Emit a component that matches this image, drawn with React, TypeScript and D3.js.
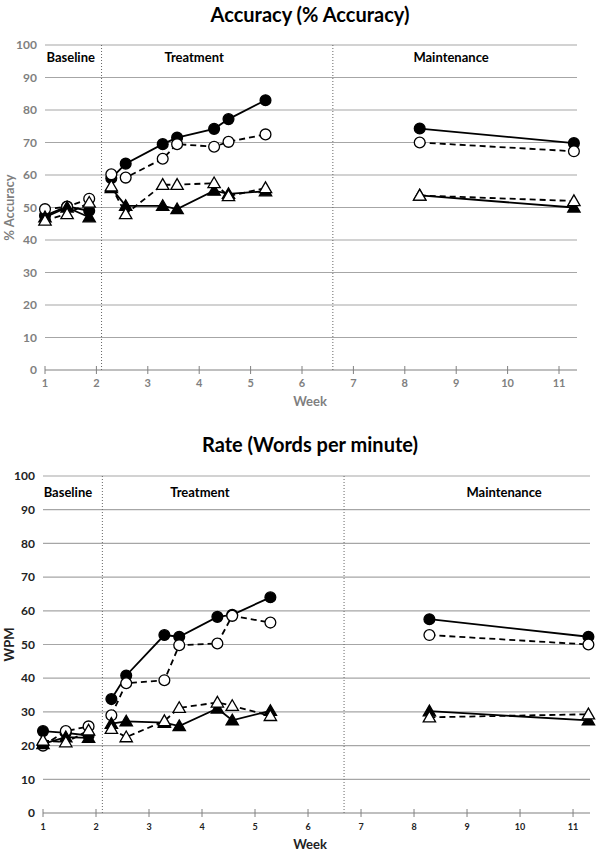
// @ts-nocheck
import React from 'react'
import * as d3 from 'd3'

// weeks of each probe (same for both measures)
const weeks = [1, 1.43, 1.86, 2.29, 2.57, 3.29, 3.57, 4.29, 4.57, 5.29, 8.29, 11.29]
// phase segments, as [start, end) indices into weeks
const phases = [
  [0, 3],
  [3, 10],
  [10, 12],
]
const phaseNames = ['Baseline', 'Treatment', 'Maintenance']
const accBreaks = [2.1, 6.6]
const rateBreaks = [2.12, 6.68]

const accFilledCircle = [47.5, 50.3, 49, 59, 63.5, 69.5, 71.5, 74.2, 77.2, 83, 74.3, 69.8]
const accOpenCircle = [49.5, 50.2, 52.7, 60.2, 59.2, 65, 69.5, 68.7, 70.2, 72.5, 70, 67.3]
const accFilledTri = [47, 50, 47, 56, 50.5, 50.5, 49.5, 55.2, 54.2, 55, 53.7, 50]
const accOpenTri = [46, 48, 51.5, 56.5, 48, 57, 57, 57.5, 53.5, 56, 53.7, 52]

const rateFilledCircle = [24.3, 23.8, 23, 33.8, 40.8, 52.8, 52.3, 58.2, 58.8, 64, 57.5, 52.3]
const rateOpenCircle = [20, 24.3, 25.7, 29, 38.5, 39.4, 49.8, 50.3, 58.5, 56.5, 52.8, 50]
const rateFilledTri = [20.5, 22.5, 22.3, 26.5, 27.2, 26.8, 25.8, 31, 27.5, 30.3, 30.2, 27.5]
const rateOpenTri = [21.5, 21, 24.5, 25, 22.5, 27.3, 31.2, 32.8, 31.8, 28.8, 28.4, 29.3]

const yTicks = [0, 10, 20, 30, 40, 50, 60, 70, 80, 90, 100]
const xTicks = [1, 2, 3, 4, 5, 6, 7, 8, 9, 10, 11]

const FONT = 'Lato, "Open Sans", sans-serif'

const styles = [
  { shape: 'circle', filled: true, dash: null },
  { shape: 'circle', filled: false, dash: '6,4' },
  { shape: 'triangle', filled: true, dash: null },
  { shape: 'triangle', filled: false, dash: '6,4' },
]

const Marker = ({ cx, cy, shape, filled }) => {
  const fill = filled ? '#000' : '#fff'
  if (shape === 'circle') return <circle cx={cx} cy={cy} r={5.4} fill={fill} stroke="#000" strokeWidth={1.3} />
  const path = d3.symbol(d3.symbolTriangle, 66)()
  return <path d={path} transform={`translate(${cx},${cy + 1})`} fill={fill} stroke="#000" strokeWidth={1.3} />
}

const Panel = ({ top, x0, x1, y0, y1, domainMax, series, breaks, title, yLabel, tickColor, xTickSize, phaseLabelX, phaseLabelY }) => {
  const x = d3.scaleLinear().domain([1, domainMax]).range([x0, x1])
  const y = d3.scaleLinear().domain([0, 100]).range([y1, y0])
  const line = d3
    .line()
    .x((d) => x(d[0]))
    .y((d) => y(d[1]))

  return (
    <g>
      <text x={310} y={top} textAnchor="middle" fontFamily={FONT} fontWeight="bold" fontSize={20} fill="#000">
        {title}
      </text>
      {yTicks.map((t) => (
        <g key={t}>
          {t > 0 && <line x1={x0} x2={x1} y1={y(t)} y2={y(t)} stroke="#a6a6a6" strokeWidth={1.2} />}
          <text
            x={x0 - 8}
            y={y(t)}
            dy="0.35em"
            textAnchor="end"
            fontFamily={FONT}
            fontWeight="bold"
            fontSize={12}
            fill={tickColor}
          >
            {t}
          </text>
        </g>
      ))}
      <line x1={x0} x2={x1} y1={y(0)} y2={y(0)} stroke="#808080" strokeWidth={1.2} />
      {xTicks.map((t) => (
        <g key={t}>
          <line x1={x(t)} x2={x(t)} y1={y(0) - 4} y2={y(0) + 4} stroke="#808080" strokeWidth={1} />
          <text
            x={x(t)}
            y={y(0) + 17}
            textAnchor="middle"
            fontFamily={FONT}
            fontWeight="bold"
            fontSize={xTickSize}
            fill={tickColor}
          >
            {t}
          </text>
        </g>
      ))}
      <text x={310} y={y(0) + 36} textAnchor="middle" fontFamily={FONT} fontWeight="bold" fontSize={13} fill={tickColor}>
        Week
      </text>
      <text
        transform={`translate(14, ${(y0 + y1) / 2}) rotate(-90)`}
        textAnchor="middle"
        fontFamily={FONT}
        fontWeight="bold"
        fontSize={13}
        fill={tickColor}
      >
        {yLabel}
      </text>
      {breaks.map((b) => (
        <line key={b} x1={x(b)} x2={x(b)} y1={y(100)} y2={y(0)} stroke="#666" strokeWidth={1} strokeDasharray="1,2" />
      ))}
      {phaseNames.map((n, i) => (
        <text
          key={n}
          x={x(phaseLabelX[i])}
          y={y(phaseLabelY)}
          textAnchor="middle"
          fontFamily={FONT}
          fontWeight="bold"
          fontSize={13}
          fill="#000"
        >
          {n}
        </text>
      ))}
      {series.map((vals, si) =>
        phases.map(([a, b], pi) => (
          <path
            key={`${si}-${pi}`}
            d={line(weeks.slice(a, b).map((w, i) => [w, vals[a + i]]))}
            fill="none"
            stroke="#000"
            strokeWidth={1.8}
            strokeDasharray={styles[si].dash}
          />
        ))
      )}
      {series.map((vals, si) =>
        vals.map((v, i) => (
          <Marker key={`${si}-${i}`} cx={x(weeks[i])} cy={y(v)} shape={styles[si].shape} filled={styles[si].filled} />
        ))
      )}
    </g>
  )
}

export default function App() {
  return (
    <svg width={600} height={852} style={{ position: 'absolute', left: 0, top: 0, background: '#fff' }}>
      <rect width={600} height={852} fill="#fff" />
      <Panel
        top={22}
        x0={45}
        x1={577}
        y0={45}
        y1={370}
        domainMax={11.35}
        series={[accFilledCircle, accOpenCircle, accFilledTri, accOpenTri]}
        breaks={accBreaks}
        title="Accuracy (% Accuracy)"
        yLabel="% Accuracy"
        tickColor="#7f7f7f"
        xTickSize={11}
        phaseLabelX={[1.5, 3.9, 8.9]}
        phaseLabelY={94.8}
      />
      <Panel
        top={452}
        x0={43}
        x1={590}
        y0={476}
        y1={813}
        domainMax={11.32}
        series={[rateFilledCircle, rateOpenCircle, rateFilledTri, rateOpenTri]}
        breaks={rateBreaks}
        title="Rate (Words per minute)"
        yLabel="WPM"
        tickColor="#222"
        xTickSize={9}
        phaseLabelX={[1.47, 3.96, 9.7]}
        phaseLabelY={93.8}
      />
    </svg>
  )
}
